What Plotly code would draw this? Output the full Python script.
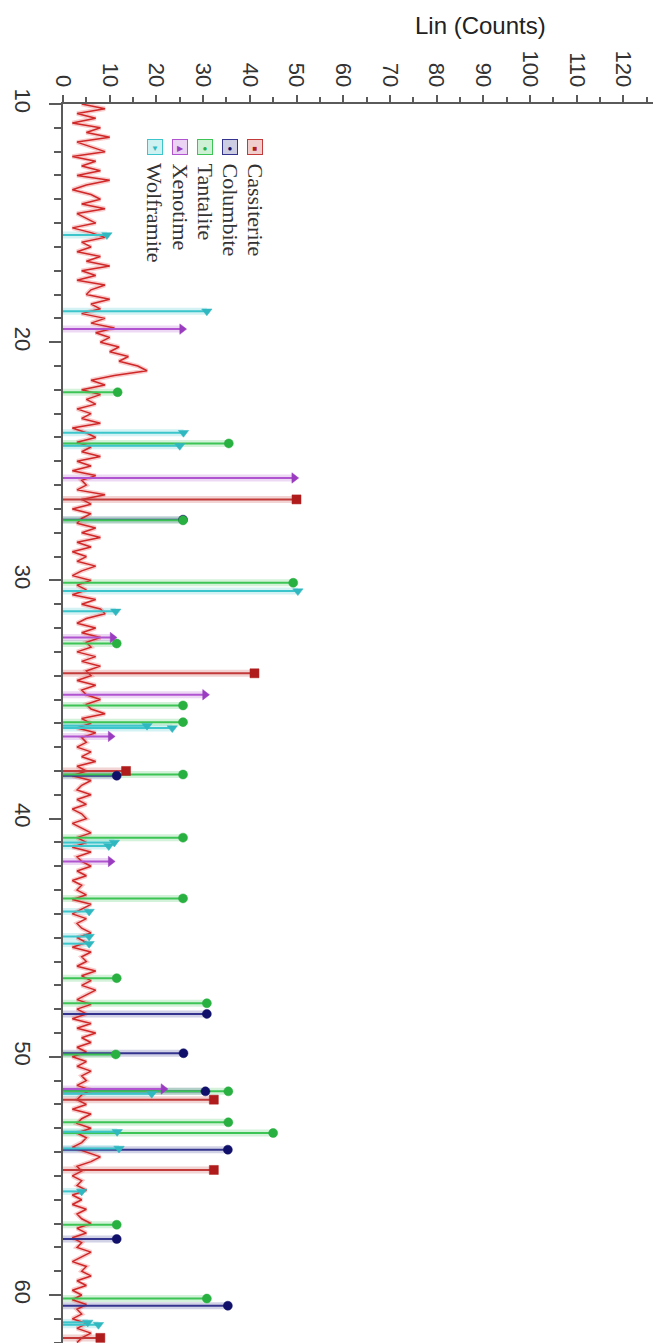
import plotly.graph_objects as go

# ---------------- data ----------------
# measured pattern, 2-theta from 10.0 to 62.0 in 0.2 degree steps
scan_start = 10.0
scan_step = 0.2
counts = [
    4, 9, 3, 7, 2,   8, 5, 10, 3, 6,   9, 2, 7, 4, 8,   3, 10, 5, 2, 6,
    8, 4, 9, 3, 5,   7, 2, 6, 9, 4,    6, 3, 8, 5, 10,  4, 7, 3, 9, 6,
    5, 10, 6, 8, 4,  9, 6, 11, 7, 10,  8, 12, 10, 14, 12, 16, 18, 11, 6, 9,
    4, 8, 5, 7, 3,   6, 4, 8, 2, 5,    7, 3, 6, 4, 8,   3, 6, 2, 7, 4,
    5, 3, 9, 4, 6,   2, 6, 4, 3, 7,    4, 8, 3, 6, 2,   5, 3, 7, 4, 2,
    6, 3, 5, 2, 7,   4, 8, 9, 5, 3,    7, 4, 8, 5, 6,   3, 7, 4, 8, 5,
    6, 3, 7, 4, 5,   8, 5, 6, 9, 4,    6, 3, 7, 4, 5,   3, 6, 4, 7, 3,
    5, 2, 6, 4, 3,   6, 3, 5, 2, 4,    5, 2, 4, 6, 3,   5, 2, 6, 3, 4,
    6, 3, 5, 2, 4,   3, 5, 2, 6, 4,    2, 5, 3, 4, 6,   3, 5, 2, 6, 4,
    5, 3, 7, 4, 6,   4, 7, 5, 3, 6,    3, 5, 2, 6, 3,   7, 4, 6, 3, 5,
    2, 5, 3, 6, 4,   5, 3, 6, 4, 3,    5, 2, 6, 4, 3,   6, 3, 5, 4, 2,
    5, 8, 6, 3, 4,   2, 4, 3, 5, 2,    4, 2, 5, 3, 4,   6, 3, 5, 2, 4,
    3, 6, 4, 2, 5,   4, 6, 3, 5, 2,    4, 2, 5, 3, 4,   2, 5, 3, 6, 4,
    3,
]
two_theta = [round(scan_start + i * scan_step, 2) for i in range(len(counts))]

# reference stick patterns (2-theta, intensity)
cass_2t = [26.6, 33.9, 38.0, 51.8, 54.75, 61.8]
cass_i = [50.0, 41.0, 13.5, 32.3, 32.3, 8.0]

colu_2t = [27.45, 38.2, 48.2, 49.85, 51.45, 53.9, 57.65, 60.45]
colu_i = [25.7, 11.5, 30.8, 25.8, 30.5, 35.3, 11.5, 35.3]

tant_2t = [22.1, 24.25, 27.48, 30.1, 32.65, 35.25, 35.95, 38.15, 40.8, 43.35,
           46.7, 47.75, 49.9, 51.45, 52.75, 53.2, 57.05, 60.15]
tant_i = [11.7, 35.5, 25.7, 49.3, 11.5, 25.7, 25.7, 25.7, 25.7, 25.7,
          11.5, 30.8, 11.3, 35.4, 35.4, 45.0, 11.5, 30.8]

xeno_2t = [19.45, 25.7, 32.4, 34.8, 36.55, 41.8, 51.35]
xeno_i = [25.5, 49.5, 10.6, 30.4, 10.2, 10.2, 21.5]

wolf_2t = [15.5, 18.7, 23.8, 24.35, 30.45, 31.3, 36.1, 36.2, 41.0, 41.15,
           43.9, 44.95, 45.25, 51.55, 53.15, 53.85, 55.65, 61.15, 61.25]
wolf_i = [9.4, 30.8, 25.8, 25.0, 50.3, 11.3, 18.0, 23.4, 11.0, 9.8,
          5.6, 5.6, 5.6, 19.0, 11.6, 12.0, 4.0, 5.3, 7.6]

phases = [
    # name, positions, intensities, stick colour, marker colour, symbol, legend glyph
    ("Cassiterite", cass_2t, cass_i, "#c23a3a", "#b01c1c", "square", "■"),
    ("Columbite", colu_2t, colu_i, "#34348f", "#10106a", "circle", "●"),
    ("Tantalite", tant_2t, tant_i, "#3cc455", "#28b040", "circle", "●"),
    ("Xenotime", xeno_2t, xeno_i, "#b054d0", "#9a3cc0", "triangle-right", "▶"),
    ("Wolframite", wolf_2t, wolf_i, "#3cc6cc", "#30b8c0", "triangle-down", "▼"),
]

# ---------------- figure ----------------
L, T, WIDTH, HEIGHT = 63, 104, 653, 1343
PW, PH = WIDTH - L, HEIGHT - T


def px_x(x):
    return (x - L) / PW


def px_y(y):
    return 1 - (y - T) / PH


def hex_rgba(h, a):
    h = h.lstrip("#")
    return "rgba(%d,%d,%d,%.2f)" % (int(h[0:2], 16), int(h[2:4], 16), int(h[4:6], 16), a)


fig = go.Figure()


def stick_xy(pos, inten):
    xs, ys = [], []
    for p, v in zip(pos, inten):
        xs += [0, v, None]
        ys += [p, p, None]
    return xs, ys


# pale halos of the sticks
for name, pos, inten, sc, mc, sym, glyph in phases:
    xs, ys = stick_xy(pos, inten)
    fig.add_trace(go.Scatter(x=xs, y=ys, mode="lines",
                             line=dict(color=hex_rgba(sc, 0.22), width=7),
                             hoverinfo="skip"))

# measured pattern
fig.add_trace(go.Scatter(x=counts, y=two_theta, mode="lines",
                         line=dict(color="rgba(235,110,110,0.35)", width=4.5),
                         hoverinfo="skip"))
fig.add_trace(go.Scatter(x=counts, y=two_theta, mode="lines",
                         line=dict(color="#d02828", width=1.5),
                         name="measured"))

# stick cores and tip markers
for name, pos, inten, sc, mc, sym, glyph in phases:
    xs, ys = stick_xy(pos, inten)
    fig.add_trace(go.Scatter(x=xs, y=ys, mode="lines",
                             line=dict(color=sc, width=2), name=name))
for name, pos, inten, sc, mc, sym, glyph in phases:
    fig.add_trace(go.Scatter(x=inten, y=pos, mode="markers",
                             marker=dict(symbol=sym, color=mc, size=9,
                                         line=dict(color=hex_rgba(mc, 0.5), width=1)),
                             name=name))

# rotated legend
leg_x = [255, 230, 205, 180, 155]
for (name, pos, inten, sc, mc, sym, glyph), lx in zip(phases, leg_x):
    fig.add_annotation(xref="paper", yref="paper", x=px_x(lx), y=px_y(147),
                       text=glyph, showarrow=False,
                       font=dict(size=8, color=mc),
                       bgcolor=hex_rgba(sc, 0.25), bordercolor=sc, borderwidth=1,
                       width=12, height=12, xanchor="center", yanchor="middle")
    fig.add_annotation(xref="paper", yref="paper", x=px_x(lx), y=px_y(161),
                       text=name, showarrow=False, textangle=90,
                       font=dict(family="Liberation Serif, Times New Roman", size=22, color="#333"),
                       xanchor="center", yanchor="top")

# axis title (upright, as in the reference)
fig.add_annotation(xref="paper", yref="paper", x=px_x(480), y=px_y(25),
                   text="Lin (Counts)", showarrow=False,
                   font=dict(family="Liberation Sans, Arial", size=24, color="#222"),
                   xanchor="center", yanchor="middle")

axis_font = dict(family="Liberation Sans, Arial", size=22, color="#333")
fig.update_xaxes(range=[0, PW / 4.67], side="top", tick0=0, dtick=10,
                 ticks="outside", ticklen=7, tickwidth=1.5, tickcolor="#5a5a5a",
                 minor=dict(ticks="outside", dtick=5, ticklen=5, tickwidth=1.5, tickcolor="#5a5a5a"),
                 showline=True, linecolor="#5a5a5a", linewidth=2,
                 tickangle=90, tickfont=axis_font,
                 showgrid=False, zeroline=False)
fig.update_yaxes(range=[10 + PH / 23.82, 10.0], tick0=10, dtick=10,
                 ticks="outside", ticklen=12, tickwidth=1.5, tickcolor="#5a5a5a",
                 minor=dict(ticks="outside", dtick=1, ticklen=7, tickwidth=1.5, tickcolor="#5a5a5a"),
                 showline=True, linecolor="#5a5a5a", linewidth=2,
                 tickangle=90, tickfont=axis_font, ticklabelstandoff=8,
                 showgrid=False, zeroline=False)

fig.update_layout(width=WIDTH, height=HEIGHT,
                  margin=dict(l=L, r=0, t=T, b=0, pad=0),
                  plot_bgcolor="white", paper_bgcolor="white",
                  showlegend=False)

fig.write_html("out.html")
